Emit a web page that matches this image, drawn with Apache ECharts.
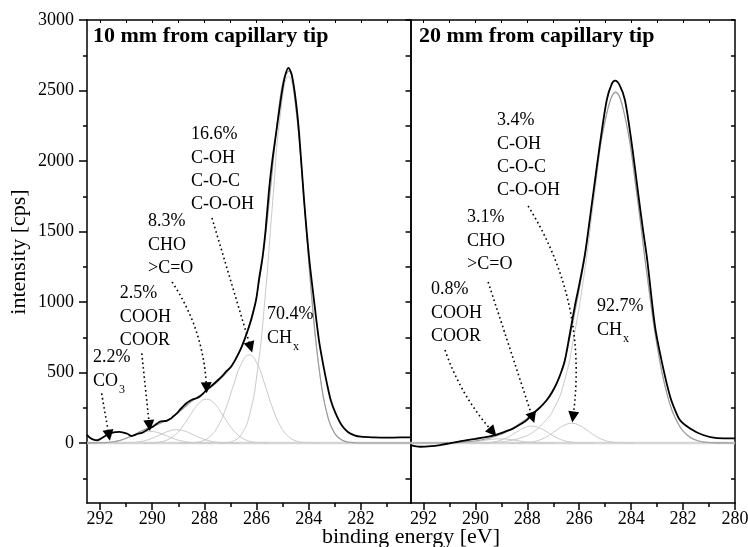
<!DOCTYPE html>
<html><head><meta charset="utf-8">
<script src="https://cdn.jsdelivr.net/npm/echarts@6.0.0/dist/echarts.min.js"></script>
<style>html,body{margin:0;padding:0;background:#fff}#c{width:748px;height:547px}</style>
</head><body><div id="c"></div>
<script>
// ---------------- data (binding energy [eV], intensity [cps]) ----------------
const titles = ['10 mm from capillary tip', '20 mm from capillary tip'];
const xTicks10 = [282, 284, 286, 288, 290, 292];
const xTicks20 = [280, 282, 284, 286, 288, 290, 292];
const xMinorTicks = [281, 283, 285, 287, 289, 291];
const xTopTicks = [281, 282, 283, 284, 285, 286, 287, 288, 289, 290, 291, 292];
const yTicks = [0, 500, 1000, 1500, 2000, 2500, 3000];
const yMinorTicks = [-250, 250, 750, 1250, 1750, 2250, 2750];

// 10 mm: measured spectrum
const data10 = [[292.5,58],[292.4,40],[292.25,24],[292.1,20],[292.0,28],[291.85,45],[291.7,62],[291.55,72],[291.4,78],[291.25,80],[291.1,74],[290.95,66],[290.8,50],[290.7,55],[290.55,66],[290.4,72],[290.25,88],[290.1,104],[289.95,120],[289.8,140],[289.7,152],[289.55,156],[289.45,158],[289.3,172],[289.2,188],[289.05,212],[288.95,234],[288.8,262],[288.7,281],[288.55,300],[288.44,310],[288.3,318],[288.19,328],[288.05,350],[287.93,376],[287.75,402],[287.55,435],[287.35,470],[287.17,506],[286.98,541],[286.79,600],[286.6,670],[286.47,730],[286.3,820],[286.21,872],[286.02,1014],[285.9,1170],[285.77,1320],[285.65,1520],[285.52,1800],[285.4,2000],[285.28,2160],[285.13,2360],[285.0,2520],[284.9,2610],[284.78,2660],[284.65,2610],[284.5,2433],[284.37,2196],[284.18,1723],[283.99,1321],[283.8,1014],[283.61,730],[283.45,560],[283.3,420],[283.15,300],[282.97,210],[282.75,130],[282.5,78],[282.25,55],[282.0,45],[281.5,40],[281.0,38],[280.5,40],[280.1,40]];
// 10 mm: fit envelope
const fit10 = [[292.5,1],[292.25,1],[292.0,2],[291.75,4],[291.5,9],[291.25,18],[291.0,34],[290.75,54],[290.5,78],[290.25,100],[290.0,115],[289.75,135],[289.5,155],[289.25,180],[289.0,215],[288.75,255],[288.5,295],[288.25,330],[288.0,360],[287.75,395],[287.5,435],[287.25,480],[287.0,535],[286.75,610],[286.5,720],[286.25,860],[286.0,1040],[285.75,1330],[285.5,1740],[285.25,2199],[285.0,2553],[284.75,2639],[284.5,2390],[284.25,1885],[284.0,1287],[283.75,764],[283.5,393],[283.25,174],[283.0,67],[282.75,23],[282.5,7],[282.25,2],[282.0,0],[280.1,0]];
// 10 mm: components
const chx10 = [[282.08,0],[282.38,3],[282.68,16],[282.98,62],[283.28,193],[283.58,494],[283.88,1019],[284.18,1716],[284.48,2343],[284.78,2600],[285.08,2343],[285.38,1716],[285.68,1019],[285.98,494],[286.28,193],[286.58,62],[286.88,16],[287.18,3],[287.48,0]];
const coh10 = [[283.58,0],[283.88,1],[284.18,4],[284.48,15],[284.78,47],[285.08,119],[285.38,245],[285.68,413],[285.98,563],[286.28,625],[286.58,563],[286.88,413],[287.18,245],[287.48,119],[287.78,47],[288.08,15],[288.38,4],[288.68,1],[288.98,0]];
const cho10 = [[285.52,0],[285.82,2],[286.12,7],[286.42,23],[286.72,59],[287.02,122],[287.32,205],[287.62,280],[287.92,311],[288.22,280],[288.52,205],[288.82,122],[289.12,59],[289.42,23],[289.72,7],[290.02,2],[290.32,0]];
const cooh10 = [[286.66,0],[286.96,1],[287.26,2],[287.56,7],[287.86,18],[288.16,37],[288.46,62],[288.76,85],[289.06,94],[289.36,85],[289.66,62],[289.96,37],[290.26,18],[290.56,7],[290.86,2],[291.16,1],[291.46,0]];
const co310 = [[287.7,0],[288.0,1],[288.3,2],[288.6,6],[288.9,16],[289.2,33],[289.5,55],[289.8,75],[290.1,83],[290.4,75],[290.7,55],[291.0,33],[291.3,16],[291.6,6],[291.9,2],[292.2,1],[292.5,0]];

// 20 mm: measured spectrum
const data20 = [[292.5,-15],[292.13,-26],[291.7,-22],[291.36,-14],[291.0,-2],[290.6,12],[290.33,21],[290.0,30],[289.6,42],[289.24,57],[288.9,78],[288.54,104],[288.25,135],[288.02,163],[287.77,210],[287.5,255],[287.25,305],[287.05,360],[286.87,423],[286.7,500],[286.55,589],[286.36,778],[286.16,980],[285.97,1150],[285.78,1340],[285.62,1550],[285.46,1771],[285.2,2125],[284.94,2433],[284.75,2545],[284.62,2570],[284.45,2540],[284.24,2433],[283.98,2125],[283.73,1771],[283.55,1520],[283.38,1298],[283.08,825],[282.8,560],[282.5,330],[282.3,230],[282.12,163],[281.73,104],[281.23,57],[280.7,35],[280.0,33]];
// 20 mm: fit envelope
const fit20 = [[292.5,0],[291.5,0],[291.0,2],[290.6,5],[290.2,12],[289.8,22],[289.4,38],[289.0,62],[288.6,100],[288.2,150],[287.8,205],[287.4,270],[287.0,370],[286.6,560],[286.2,900],[285.8,1300],[285.4,1830],[285.0,2290],[284.6,2490],[284.2,2280],[283.8,1790],[283.4,1210],[283.0,690],[282.6,335],[282.2,140],[281.8,50],[281.4,15],[281.0,4],[280.6,1],[280.0,0]];
// 20 mm: components
const chx20 = [[289.8,0],[289.4,2],[289.0,8],[288.6,20],[288.2,40],[287.8,75],[287.4,140],[287.0,235],[286.6,420],[286.2,760],[285.8,1210],[285.4,1780],[285.0,2280],[284.6,2480],[284.2,2280],[283.8,1790],[283.4,1208],[283.0,689],[282.6,335],[282.2,139],[281.8,49],[281.4,15],[281.0,4],[280.6,0]];
const coh20 = [[283.89,0],[284.19,1],[284.49,3],[284.79,9],[285.09,24],[285.39,52],[285.69,90],[285.99,125],[286.29,140],[286.59,125],[286.89,90],[287.19,52],[287.49,24],[287.79,9],[288.09,3],[288.39,1],[288.69,0]];
const cho20 = [[285.43,0],[285.73,0.5],[286.03,2],[286.33,7.5],[286.63,20],[286.93,44],[287.23,77],[287.53,107],[287.83,120],[288.13,107],[288.43,77],[288.73,44],[289.03,20],[289.33,7.5],[289.63,2],[289.93,0.5],[290.23,0]];
const cooh20 = [[286.95,0],[287.25,0.5],[287.55,2],[287.85,5],[288.15,11],[288.45,19],[288.75,27],[289.05,30],[289.35,27],[289.65,19],[289.95,11],[290.25,5],[290.55,2],[290.85,0.5],[291.15,0]];

const baseline10 = [[292.5,0],[280.1,0]];
const baseline20 = [[292.5,0],[280.0,0]];

// annotation texts and anchors (binding energy, intensity)
const notes10Text = ['2.2%\nCO{sub|3}', '2.5%\nCOOH\nCOOR', '8.3%\nCHO\n>C=O', '16.6%\nC-OH\nC-O-C\nC-O-OH', '70.4%\nCH{sub|x}'];
const notes10At = [[292.27,688],[291.24,1142],[290.16,1652],[288.51,2270],[285.6,993]];
const notes20Text = ['0.8%\nCOOH\nCOOR', '3.1%\nCHO\n>C=O', '3.4%\nC-OH\nC-O-C\nC-O-OH', '92.7%\nCH{sub|x}'];
const notes20At = [[291.71,1170],[290.32,1681],[289.17,2369],[285.32,1050]];
// arrows: [from, to]
const arrows10 = [[[291.94,352],[291.66,55]], [[290.4,636],[290.11,125]], [[289.24,1142],[287.92,392]], [[287.71,1596],[286.23,680]]];
const arrows20 = [[[291.17,660],[289.33,78]], [[289.51,1142],[287.8,180]], [[287.97,1681],[286.24,185]]];
const arrowBend10 = [0, 0, 0.14, 0];
const arrowBend20 = [-0.1, 0, 0.18];

// ---------------- chart ----------------
const FONT = '"Liberation Serif", "Times New Roman", serif';
const E_MAX = 292.5, E_MIN10 = 280.1, E_MIN20 = 280.0, Y_MIN = -425, Y_MAX = 3000;
const yAll = yTicks.concat(yMinorTicks).sort((a, b) => a - b);
const LS = { color: '#000', width: 1.5 };

function xAxis(grid, min, pos, opt) {
  return Object.assign({
    type: 'value', gridIndex: grid, min: min, max: E_MAX, inverse: true, position: pos,
    axisLine: { show: false, onZero: false, lineStyle: LS },
    axisTick: { show: false }, axisLabel: { show: false }, splitLine: { show: false }
  }, opt);
}
function yAxis(grid, pos, opt) {
  return Object.assign({
    type: 'value', gridIndex: grid, min: Y_MIN, max: Y_MAX, position: pos,
    axisLine: { show: false, onZero: false, lineStyle: LS },
    axisTick: { show: false }, axisLabel: { show: false }, splitLine: { show: false }
  }, opt);
}
const tickLabel = { color: '#000', fontFamily: FONT, fontSize: 18, formatter: v => String(v) };

const xAxes = [
  xAxis(0, E_MIN10, 'bottom', { axisLine: { show: true, onZero: false, lineStyle: LS },
    axisTick: { show: true, length: 7, customValues: xTicks10, lineStyle: LS },
    axisLabel: Object.assign({ show: true, margin: 7, customValues: xTicks10 }, tickLabel) }),
  xAxis(0, E_MIN10, 'bottom', { axisTick: { show: true, length: 4, customValues: xMinorTicks, lineStyle: LS } }),
  xAxis(0, E_MIN10, 'top', { axisLine: { show: true, onZero: false, lineStyle: LS },
    axisTick: { show: true, inside: true, length: 3, customValues: xTopTicks, lineStyle: { color: '#000', width: 1 } } }),
  xAxis(1, E_MIN20, 'bottom', { axisLine: { show: true, onZero: false, lineStyle: LS },
    axisTick: { show: true, length: 7, customValues: xTicks20, lineStyle: LS },
    axisLabel: Object.assign({ show: true, margin: 7, customValues: xTicks20 }, tickLabel) }),
  xAxis(1, E_MIN20, 'bottom', { axisTick: { show: true, length: 4, customValues: xMinorTicks, lineStyle: LS } }),
  xAxis(1, E_MIN20, 'top', { axisLine: { show: true, onZero: false, lineStyle: LS },
    axisTick: { show: true, inside: true, length: 3, customValues: xTopTicks, lineStyle: { color: '#000', width: 1 } } })
];
const yAxes = [
  yAxis(0, 'left', { axisLine: { show: true, onZero: false, lineStyle: LS },
    axisTick: { show: true, length: 8, customValues: yTicks, lineStyle: LS },
    axisLabel: Object.assign({ show: true, margin: 13, customValues: yTicks }, tickLabel) }),
  yAxis(0, 'left', { axisTick: { show: true, length: 4, customValues: yMinorTicks, lineStyle: LS } }),
  yAxis(0, 'right', { axisLine: { show: true, onZero: false, lineStyle: LS } }),
  yAxis(1, 'left', { axisLine: { show: true, onZero: false, lineStyle: LS },
    axisTick: { show: true, length: 5, customValues: yAll, lineStyle: LS } }),
  yAxis(1, 'right', { axisLine: { show: true, onZero: false, lineStyle: LS },
    axisTick: { show: true, inside: true, length: 4, customValues: yAll, lineStyle: LS } })
];

function line(g, data, color, width, z, smooth) {
  return { type: 'line', xAxisIndex: g === 0 ? 0 : 3, yAxisIndex: g === 0 ? 0 : 3, data: data,
    showSymbol: false, symbol: 'none', smooth: smooth, lineStyle: { color: color, width: width },
    z: z, silent: true, animation: false };
}
function arrows(g, list, bends) {
  return { type: 'lines', coordinateSystem: 'cartesian2d', xAxisIndex: g === 0 ? 0 : 3, yAxisIndex: g === 0 ? 0 : 3,
    symbol: ['none', 'triangle'], symbolSize: [7, 11], silent: true, z: 9, animation: false,
    lineStyle: { color: '#000', width: 1.6, type: [1.6, 3], opacity: 1 },
    data: list.map((a, i) => ({ coords: a, lineStyle: { curveness: bends[i] } })) };
}

const GRAY_C = '#c9c9c9', GRAY_E = '#9a9a9a', GRAY_B = '#d6d6d6';
const series = [
  line(0, baseline10, GRAY_B, 2.5, 1, false),
  line(0, chx10, GRAY_C, 1, 2, 0.5), line(0, coh10, GRAY_C, 1, 2, 0.5), line(0, cho10, GRAY_C, 1, 2, 0.5),
  line(0, cooh10, GRAY_C, 1, 2, 0.5), line(0, co310, GRAY_C, 1, 2, 0.5),
  line(0, fit10, GRAY_E, 1.1, 3, 0.4),
  line(0, data10, '#000', 1.8, 4, 0.3),
  arrows(0, arrows10, arrowBend10),
  line(1, baseline20, GRAY_B, 2.5, 1, false),
  line(1, chx20, GRAY_C, 1, 2, 0.5), line(1, coh20, GRAY_C, 1, 2, 0.5), line(1, cho20, GRAY_C, 1, 2, 0.5),
  line(1, cooh20, GRAY_C, 1, 2, 0.5),
  line(1, fit20, GRAY_E, 1.1, 3, 0.4),
  line(1, data20, '#000', 1.8, 4, 0.3),
  arrows(1, arrows20, arrowBend20)
];

const chart = echarts.init(document.getElementById('c'), null, { renderer: 'canvas' });
chart.setOption({
  animation: false,
  backgroundColor: '#fff',
  title: [
    { text: titles[0], left: 93, top: 25, padding: 0, textStyle: { fontFamily: FONT, fontWeight: 'bold', fontSize: 22, color: '#000' } },
    { text: titles[1], left: 419, top: 25, padding: 0, textStyle: { fontFamily: FONT, fontWeight: 'bold', fontSize: 22, color: '#000' } }
  ],
  grid: [
    { left: 87, top: 20, width: 323.5, height: 483, outerBoundsMode: 'none' },
    { left: 410.5, top: 20, width: 324.5, height: 483, outerBoundsMode: 'none' }
  ],
  xAxis: xAxes,
  yAxis: yAxes,
  series: series
});

// annotation texts, placed at their data anchors
const RICH = { sub: { fontFamily: FONT, fontSize: 12, lineHeight: 23.3, verticalAlign: 'top', padding: [15, 0, 0, 1], fill: '#000' } };
function noteEls(g, texts, at) {
  return at.map((p, i) => {
    const px = chart.convertToPixel({ xAxisIndex: g === 0 ? 0 : 3, yAxisIndex: g === 0 ? 0 : 3 }, p);
    return { type: 'text', x: px[0], y: px[1], silent: true, z: 20,
      style: { text: texts[i], fontFamily: FONT, fontSize: 18, lineHeight: 23.3, fill: '#000',
        align: 'left', verticalAlign: 'top', rich: RICH } };
  });
}
chart.setOption({
  graphic: [
    { type: 'text', x: 411, y: 537, silent: true, style: { text: 'binding energy [eV]', fontFamily: FONT, fontSize: 22, fill: '#000', align: 'center', verticalAlign: 'middle' } },
    { type: 'text', x: 19, y: 252, rotation: Math.PI / 2, silent: true, style: { text: 'intensity [cps]', fontFamily: FONT, fontSize: 22, fill: '#000', align: 'center', verticalAlign: 'middle' } }
  ].concat(noteEls(0, notes10Text, notes10At), noteEls(1, notes20Text, notes20At))
});
</script></body></html>
